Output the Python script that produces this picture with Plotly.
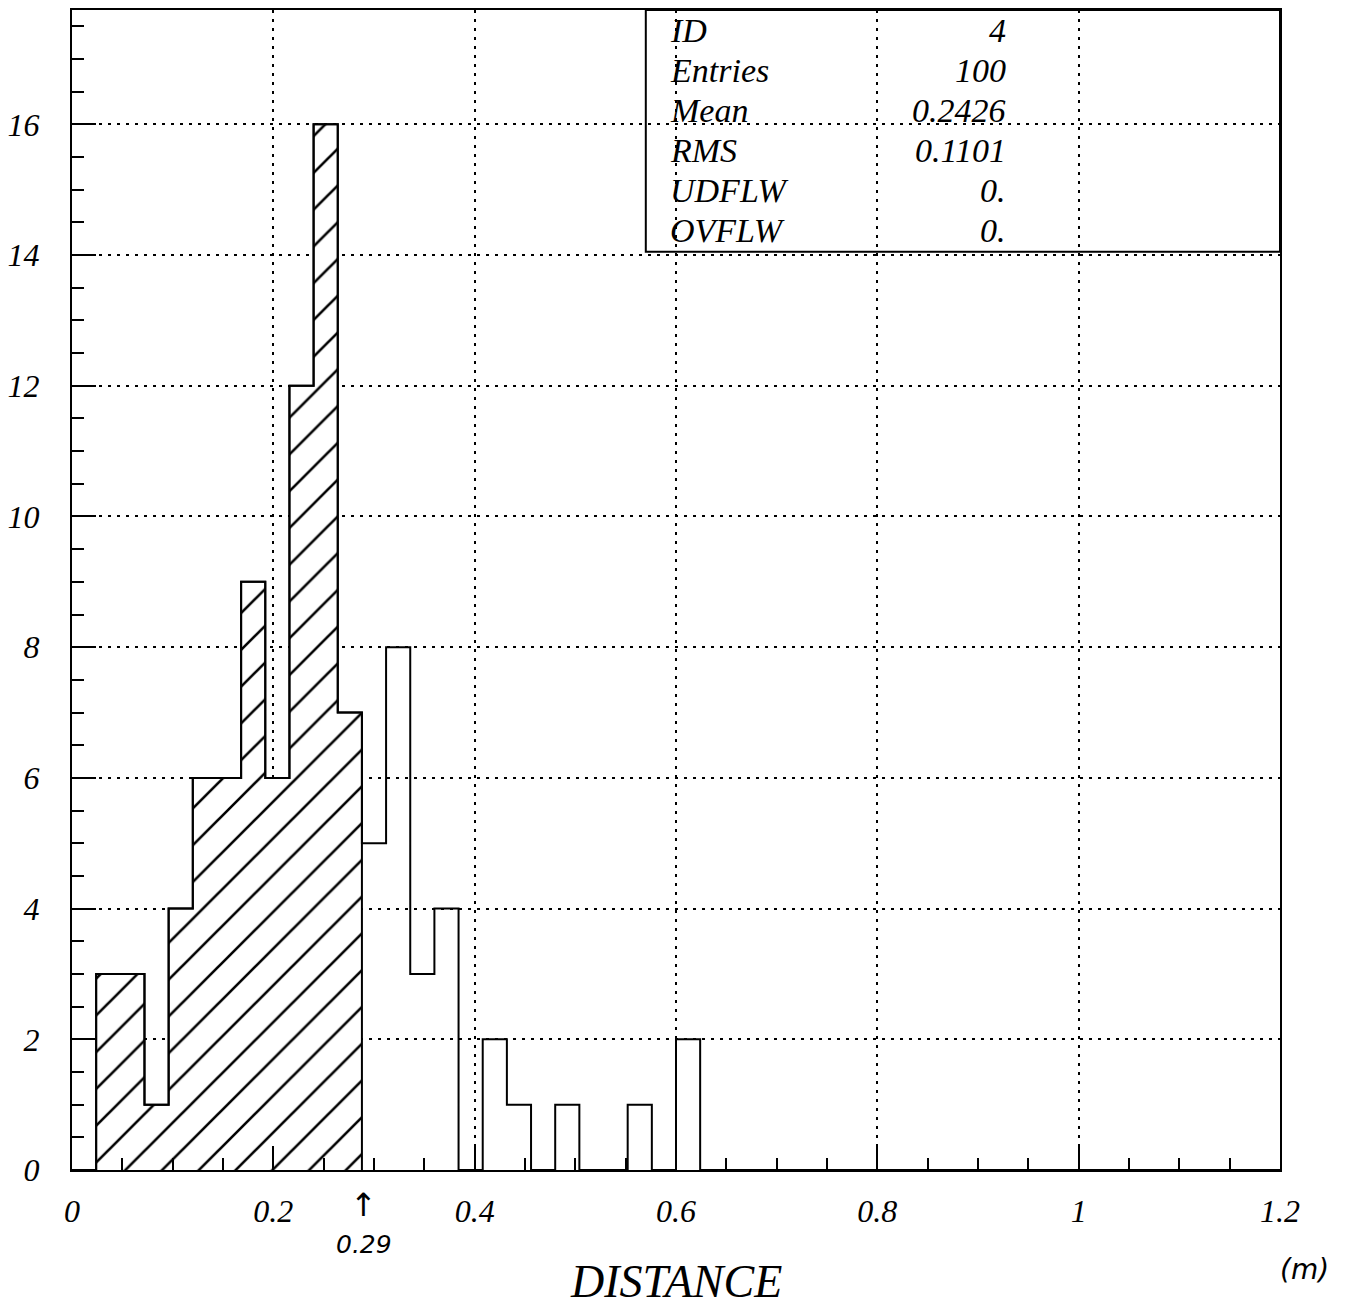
import plotly.graph_objects as go

# ---- data ----
x_min, x_max, n_bins = 0.0, 1.2, 50
counts = [0, 3, 3, 1, 4, 6, 6, 9, 6, 12,
          16, 7, 5, 8, 3, 4, 0, 2, 1, 0,
          1, 0, 0, 1, 0, 2, 0, 0, 0, 0,
          0, 0, 0, 0, 0, 0, 0, 0, 0, 0,
          0, 0, 0, 0, 0, 0, 0, 0, 0, 0]
n_hatched = 12          # bins below the 0.29 cut are hatched
cut_label = "0.29"
cut_value = 0.29

stat_names = ["ID", "Entries", "Mean", "RMS", "UDFLW", "OVFLW"]
stat_values = ["4", "100", "0.2426", "0.1101", "0.", "0."]

x_tickvals = [0, 0.2, 0.4, 0.6, 0.8, 1.0, 1.2]
x_ticktext = ["0", "0.2", "0.4", "0.6", "0.8", "1", "1.2"]
y_tickvals = [0, 2, 4, 6, 8, 10, 12, 14, 16]
y_ticktext = ["0", "2", "4", "6", "8", "10", "12", "14", "16"]
x_title = "DISTANCE"
unit_label = "(m)"

# ---- derived ----
bw = (x_max - x_min) / n_bins
edges = [x_min + i * bw for i in range(n_bins + 1)]
step_x = edges
step_y = counts + [counts[-1]]
hatch_x = edges[:n_hatched + 1]
hatch_y = counts[:n_hatched] + [0]

SERIF = "Liberation Serif"
HAND = "DejaVu Sans"
Y_TOP = 17.75

fig = go.Figure()
fig.add_trace(go.Scatter(
    x=hatch_x, y=hatch_y, mode="lines", line=dict(shape="hv", width=2, color="black"),
    fill="tozeroy", fillcolor="rgba(0,0,0,0)",
    fillpattern=dict(shape="/", size=26, solidity=0.1, fgcolor="black", fgopacity=1,
                     bgcolor="white"),
    hoverinfo="skip", showlegend=False))
fig.add_trace(go.Scatter(
    x=step_x, y=step_y, mode="lines", line=dict(shape="hv", width=2, color="black"),
    showlegend=False))

axis_common = dict(
    showline=True, linewidth=2, linecolor="black", mirror=True,
    ticks="inside", ticklen=24, tickwidth=2, tickcolor="black",
    showgrid=True, gridcolor="black", gridwidth=2, griddash="3px,6px",
    zeroline=False,
    tickfont=dict(family=SERIF, size=32, color="black", style="italic"),
)

fig.update_xaxes(range=[x_min, x_max], tickvals=x_tickvals, ticktext=x_ticktext,
                 minor=dict(dtick=0.05, tick0=0, ticks="inside", ticklen=12, tickwidth=2,
                            tickcolor="black", showgrid=False),
                 ticklabelstandoff=12, **axis_common)
fig.update_yaxes(range=[0, Y_TOP], tickvals=y_tickvals, ticktext=y_ticktext,
                 minor=dict(dtick=0.5, tick0=0, ticks="inside", ticklen=12, tickwidth=2,
                            tickcolor="black", showgrid=False),
                 ticklabelstandoff=24, **axis_common)

# stats box
fig.add_shape(type="rect", xref="x", yref="y", x0=0.57, x1=1.2, y0=14.05, y1=Y_TOP,
              line=dict(color="black", width=2), fillcolor="rgba(0,0,0,0)")
row_y = [17.43, 16.82, 16.21, 15.60, 14.99, 14.38]
for name, val, yy in zip(stat_names, stat_values, row_y):
    fig.add_annotation(x=0.592, y=yy, xref="x", yref="y", text=name, showarrow=False,
                       xanchor="left", yanchor="middle",
                       font=dict(family=SERIF, size=34, color="black", style="italic"))
    fig.add_annotation(x=0.93, y=yy, xref="x", yref="y", text=val, showarrow=False,
                       xanchor="right", yanchor="middle",
                       font=dict(family=SERIF, size=34, color="black", style="italic"))

# axis title and handwritten notes
fig.add_annotation(x=0.5, y=-0.12, xref="paper", yref="paper", text=x_title, showarrow=False,
                   xanchor="center", yanchor="bottom",
                   font=dict(family=SERIF, size=46, color="black", style="italic"))
fig.add_annotation(x=1.02, y=-0.086, xref="paper", yref="paper", text=unit_label, showarrow=False,
                   xanchor="center", yanchor="middle",
                   font=dict(family=HAND, size=28, color="black", style="italic"))
fig.add_annotation(x=cut_value, y=-0.03, xref="x", yref="paper", text="↑", showarrow=False,
                   xanchor="center", yanchor="middle",
                   font=dict(family=HAND, size=32, color="black"))
fig.add_annotation(x=cut_value, y=-0.064, xref="x", yref="paper", text=cut_label, showarrow=False,
                   xanchor="center", yanchor="middle",
                   font=dict(family=HAND, size=25, color="black", style="italic"))

fig.update_layout(
    width=1347, height=1312,
    margin=dict(l=67, r=67, t=8, b=142),
    paper_bgcolor="white", plot_bgcolor="white",
    showlegend=False,
)

fig.write_html("out.html")
